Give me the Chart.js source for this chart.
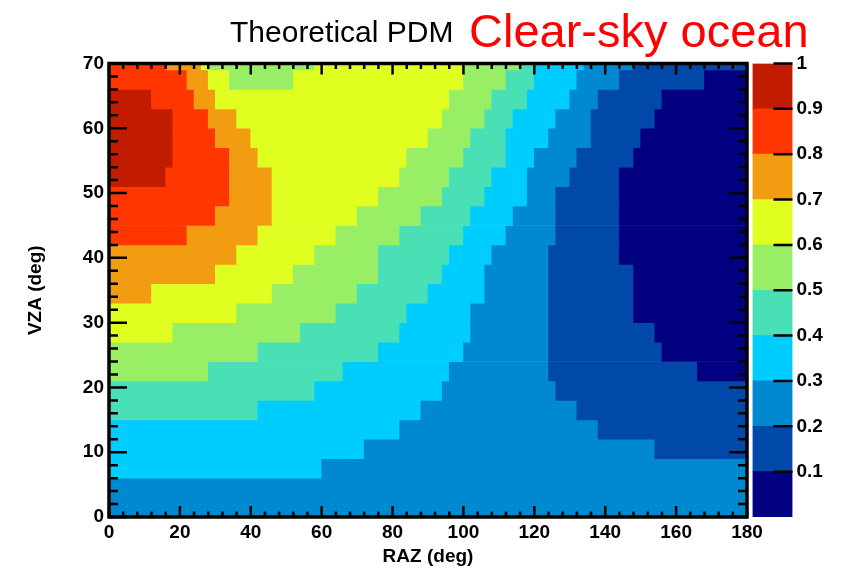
<!DOCTYPE html>
<html>
<head>
<meta charset="utf-8">
<title>Theoretical PDM - Clear-sky ocean</title>
<script src="https://cdn.jsdelivr.net/npm/chart.js@4.4.1/dist/chart.umd.min.js"></script>
<style>
  html, body { margin: 0; padding: 0; background: #fff; }
  #wrap { position: relative; width: 846px; height: 583px; }
  #wrap > div { position: absolute; top: 0; height: 583px; }
  #plot { left: 0; width: 846px; }
  #zbar { left: 740px; width: 106px; }
</style>
</head>
<body>
<div id="wrap">
  <div id="plot"><canvas id="pdmChart"></canvas></div>
  <div id="zbar"><canvas id="paletteChart"></canvas></div>
</div>
<script>
const plotTitle = "Theoretical PDM";
const sceneLabel = "Clear-sky ocean";

// axis ticks
const razTicks = [0, 20, 40, 60, 80, 100, 120, 140, 160, 180];
const vzaTicks = [0, 10, 20, 30, 40, 50, 60, 70];
const zTicks = [0.1, 0.2, 0.3, 0.4, 0.5, 0.6, 0.7, 0.8, 0.9, 1];
const zLevels = [0, 0.1, 0.2, 0.3, 0.4, 0.5, 0.6, 0.7, 0.8, 0.9, 1];

// colour of each 0.1 PDM band, low to high
const paletteColors = ["#000080", "#0049a9", "#0089d0", "#00cdff", "#4ae0b5",
                       "#98ef66", "#e0ff20", "#f29c12", "#ff3600", "#c11b00"];

// VZA bins (3 deg), bin centres
const vzaCenters = [1.5, 4.5, 7.5, 10.5, 13.5, 16.5, 19.5, 22.5, 25.5, 28.5, 31.5, 34.5,
                    37.5, 40.5, 43.5, 46.5, 49.5, 52.5, 55.5, 58.5, 61.5, 64.5, 67.5, 70.5];

// RAZ edges where the PDM band changes, one list per VZA bin
const razBreaks = [
  [0, 180],
  [0, 180],
  [0, 60, 180],
  [0, 72, 154, 180],
  [0, 82, 138, 180],
  [0, 42, 88, 132, 180],
  [0, 58, 94, 126, 180],
  [0, 28, 66, 96, 124, 166, 180],
  [0, 42, 76, 100, 124, 156, 180],
  [0, 18, 54, 82, 102, 124, 154, 180],
  [0, 36, 64, 84, 102, 124, 148, 180],
  [0, 12, 46, 70, 90, 106, 124, 148, 180],
  [0, 30, 52, 76, 94, 106, 124, 148, 180],
  [0, 36, 58, 76, 96, 108, 124, 144, 180],
  [0, 22, 42, 64, 82, 100, 112, 126, 144, 180],
  [0, 30, 46, 70, 88, 102, 114, 126, 144, 180],
  [0, 34, 46, 76, 94, 106, 118, 126, 144, 180],
  [0, 16, 34, 46, 82, 96, 108, 118, 130, 144, 180],
  [0, 18, 34, 42, 84, 100, 112, 120, 132, 148, 180],
  [0, 18, 30, 40, 90, 102, 112, 124, 136, 150, 180],
  [0, 18, 28, 36, 94, 106, 114, 126, 136, 154, 180],
  [0, 12, 24, 30, 96, 108, 118, 130, 138, 156, 180],
  [0, 22, 28, 34, 52, 100, 112, 120, 132, 144, 168, 180],
  [0, 16, 26, 28, 58, 100, 116, 120, 134, 148, 180]
];

// PDM value between those edges
const pdmValues = [
  [0.25],
  [0.25],
  [0.35, 0.25],
  [0.35, 0.25, 0.15],
  [0.35, 0.25, 0.15],
  [0.45, 0.35, 0.25, 0.15],
  [0.45, 0.35, 0.25, 0.15],
  [0.55, 0.45, 0.35, 0.25, 0.15, 0.05],
  [0.55, 0.45, 0.35, 0.25, 0.15, 0.05],
  [0.65, 0.55, 0.45, 0.35, 0.25, 0.15, 0.05],
  [0.65, 0.55, 0.45, 0.35, 0.25, 0.15, 0.05],
  [0.75, 0.65, 0.55, 0.45, 0.35, 0.25, 0.15, 0.05],
  [0.75, 0.65, 0.55, 0.45, 0.35, 0.25, 0.15, 0.05],
  [0.75, 0.65, 0.55, 0.45, 0.35, 0.25, 0.15, 0.05],
  [0.85, 0.75, 0.65, 0.55, 0.45, 0.35, 0.25, 0.15, 0.05],
  [0.85, 0.75, 0.65, 0.55, 0.45, 0.35, 0.25, 0.15, 0.05],
  [0.85, 0.75, 0.65, 0.55, 0.45, 0.35, 0.25, 0.15, 0.05],
  [0.95, 0.85, 0.75, 0.65, 0.55, 0.45, 0.35, 0.25, 0.15, 0.05],
  [0.95, 0.85, 0.75, 0.65, 0.55, 0.45, 0.35, 0.25, 0.15, 0.05],
  [0.95, 0.85, 0.75, 0.65, 0.55, 0.45, 0.35, 0.25, 0.15, 0.05],
  [0.95, 0.85, 0.75, 0.65, 0.55, 0.45, 0.35, 0.25, 0.15, 0.05],
  [0.95, 0.85, 0.75, 0.65, 0.55, 0.45, 0.35, 0.25, 0.15, 0.05],
  [0.85, 0.75, 0.65, 0.55, 0.65, 0.55, 0.45, 0.35, 0.25, 0.15, 0.05],
  [0.85, 0.75, 0.65, 0.55, 0.65, 0.55, 0.45, 0.35, 0.25, 0.15]
];

const labelFont = { family: "'Liberation Sans', Arial, sans-serif", size: 19, weight: "bold" };

function colorFor(value) {
  const idx = Math.min(paletteColors.length - 1, Math.floor(value * 10));
  return paletteColors[idx];
}

// one floating bar per run of equal colour in a VZA bin
const cells = [];
const cellColors = [];
vzaCenters.forEach((vza, row) => {
  const breaks = razBreaks[row];
  pdmValues[row].forEach((value, i) => {
    cells.push({ x: [breaks[i], breaks[i + 1]], y: vza });
    cellColors.push(colorFor(value));
  });
});

function minorValues(majors, parts) {
  const out = [];
  for (let i = 0; i < majors.length - 1; i++) {
    for (let k = 1; k < parts; k++) {
      out.push(majors[i] + ((majors[i + 1] - majors[i]) * k) / parts);
    }
  }
  return out;
}

// ROOT style frame: ticks pointing inwards on all four sides
const frameTicks = {
  id: "frameTicks",
  afterDatasetsDraw(chart) {
    const { ctx, chartArea: a, scales } = chart;
    const xs = scales.x;
    const ys = scales.y;
    const xMajor = xs.ticks.map((t) => t.value);
    const yMajor = ys.ticks.map((t) => t.value);

    ctx.save();
    ctx.strokeStyle = "#000";
    ctx.lineWidth = 2.5;
    ctx.beginPath();
    const xTick = (v, len) => {
      const px = xs.getPixelForValue(v);
      ctx.moveTo(px, a.bottom);
      ctx.lineTo(px, a.bottom - len);
      ctx.moveTo(px, a.top);
      ctx.lineTo(px, a.top + len);
    };
    const yTick = (v, len) => {
      const py = ys.getPixelForValue(v);
      ctx.moveTo(a.left, py);
      ctx.lineTo(a.left + len, py);
      ctx.moveTo(a.right, py);
      ctx.lineTo(a.right - len, py);
    };
    xMajor.forEach((v) => xTick(v, 11));
    minorValues(xMajor, 5).forEach((v) => xTick(v, 5.5));
    yMajor.forEach((v) => yTick(v, 18));
    minorValues(yMajor, 5).forEach((v) => yTick(v, 9));
    ctx.stroke();

    ctx.lineWidth = 3.5;
    ctx.strokeRect(a.left, a.top, a.right - a.left, a.bottom - a.top);
    ctx.restore();
  }
};

const headerText = {
  id: "headerText",
  afterDraw(chart) {
    const { ctx } = chart;
    ctx.save();
    ctx.textBaseline = "alphabetic";
    ctx.textAlign = "left";
    ctx.fillStyle = "#000";
    ctx.font = "30px 'Liberation Sans', Arial, sans-serif";
    ctx.fillText(plotTitle, 230, 42);
    ctx.fillStyle = "#ff0000";
    ctx.font = "47px 'Liberation Sans', Arial, sans-serif";
    ctx.fillText(sceneLabel, 469, 47);
    ctx.restore();
  }
};

new Chart(document.getElementById("pdmChart"), {
  type: "bar",
  data: {
    datasets: [
      {
        data: cells,
        backgroundColor: cellColors,
        borderWidth: 0,
        barPercentage: 1,
        categoryPercentage: 1,
      },
    ],
  },
  options: {
    indexAxis: "y",
    responsive: true,
    maintainAspectRatio: false,
    animation: false,
    layout: { padding: { top: 63.5, right: 99, bottom: 0, left: 0 } },
    plugins: { legend: { display: false }, tooltip: { enabled: false } },
    scales: {
      x: {
        type: "linear",
        min: 0,
        max: 180,
        offset: false,
        grid: { display: false, drawTicks: false },
        border: { display: false },
        afterBuildTicks: (scale) => {
          scale.ticks = razTicks.map((v) => ({ value: v }));
        },
        afterFit: (scale) => {
          scale.height = 66;
        },
        ticks: { font: labelFont, color: "#000", padding: 4, maxRotation: 0, autoSkip: false },
        title: {
          display: true,
          text: "RAZ (deg)",
          font: labelFont,
          color: "#000",
          padding: { top: 0, bottom: 15 },
        },
      },
      y: {
        type: "linear",
        min: 0,
        max: 70,
        offset: false,
        grid: { display: false, drawTicks: false },
        border: { display: false },
        afterBuildTicks: (scale) => {
          scale.ticks = vzaTicks.map((v) => ({ value: v }));
        },
        afterFit: (scale) => {
          scale.width = 109;
        },
        ticks: { font: labelFont, color: "#000", padding: 5, autoSkip: false },
        title: {
          display: true,
          text: "VZA (deg)",
          font: labelFont,
          color: "#000",
          padding: { top: 24, bottom: 0 },
        },
      },
    },
  },
  plugins: [frameTicks, headerText],
});

// colour palette on the right
const paletteTicks = {
  id: "paletteTicks",
  afterDatasetsDraw(chart) {
    const { ctx, chartArea: a, scales } = chart;
    ctx.save();
    ctx.strokeStyle = "#000";
    ctx.lineWidth = 2.5;
    ctx.beginPath();
    scales.y.ticks.forEach((t) => {
      const py = scales.y.getPixelForValue(t.value);
      ctx.moveTo(a.right, py);
      ctx.lineTo(a.right - 19, py);
    });
    ctx.stroke();
    ctx.restore();
  }
};

new Chart(document.getElementById("paletteChart"), {
  type: "bar",
  data: {
    labels: ["PDM"],
    datasets: paletteColors.map((color, i) => ({
      data: [[zLevels[i], zLevels[i + 1]]],
      backgroundColor: color,
      borderWidth: 0,
      grouped: false,
      barPercentage: 1,
      categoryPercentage: 1,
    })),
  },
  options: {
    responsive: true,
    maintainAspectRatio: false,
    animation: false,
    layout: { padding: { top: 63.5, right: 0, bottom: 66, left: 12.5 } },
    plugins: { legend: { display: false }, tooltip: { enabled: false } },
    scales: {
      x: { display: false },
      y: {
        position: "right",
        min: 0,
        max: 1,
        grid: { display: false, drawTicks: false },
        border: { display: false },
        afterBuildTicks: (scale) => {
          scale.ticks = zTicks.map((v) => ({ value: v }));
        },
        afterFit: (scale) => {
          scale.width = 53.5;
        },
        ticks: {
          font: labelFont,
          color: "#000",
          padding: 4,
          autoSkip: false,
          callback: (v) => String(v),
        },
      },
    },
  },
  plugins: [paletteTicks],
});
</script>
</body>
</html>
